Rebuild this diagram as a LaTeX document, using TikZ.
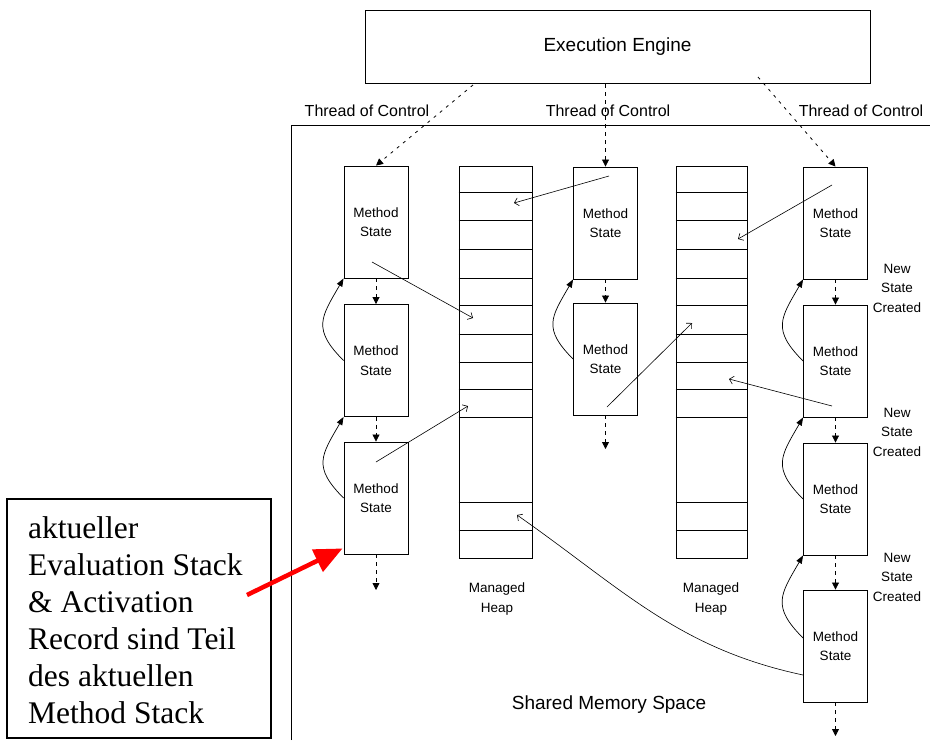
\documentclass[tikz,border=0pt]{standalone}
\usepackage{fontspec}
\setmainfont{Liberation Serif}
\newfontfamily\diagsans{Liberation Sans}
\usetikzlibrary{arrows.meta}
\begin{document}
\begin{tikzpicture}[x=1pt,y=-1pt,
  msbox/.style={draw, line width=0.9pt, minimum width=64pt, minimum height=112pt, inner sep=0pt, align=center, font=\diagsans\fontsize{13.5}{19.5}\selectfont},
  heapbox/.style={draw, line width=0.9pt, minimum height=392pt, inner sep=0pt},
  eebox/.style={draw, line width=1pt, minimum width=505pt, minimum height=73pt, inner sep=0pt, font=\diagsans\fontsize{19}{22}\selectfont},
  tlabel/.style={inner sep=0pt, font=\diagsans\fontsize{16}{19}\selectfont},
  smalllabel/.style={inner sep=0pt, align=center, font=\diagsans\fontsize{13.5}{19.5}\selectfont},
  dasharr/.style={line width=0.8pt, dash pattern=on 4pt off 4pt, -{Triangle[length=7pt,width=7pt]}},
  threadarr/.style={line width=0.8pt, dash pattern=on 3pt off 5pt, -{Triangle[length=7pt,width=7pt]}},
  thinarr/.style={line width=0.6pt, -{Straight Barb[length=4pt,width=8pt]}},
  curvarr/.style={line width=0.7pt, -{Triangle[length=8pt,width=6pt]}},
  redarr/.style={draw=red, line width=4.5pt, -{Triangle[length=28pt,width=24pt]}},
  notebox/.style={draw, line width=1.5pt, minimum width=264pt, minimum height=239pt, inner sep=0pt},
  notetext/.style={inner sep=0pt, align=left, font=\fontsize{31.5}{37}\selectfont}
]
\useasboundingbox (0,0) rectangle (930,740);

% engine and thread labels
\node[eebox] (EE) at (617.5,46.5) {Execution Engine};
\node[tlabel] (T1) at (367,111) {Thread of Control};
\node[tlabel] (T2) at (608,111) {Thread of Control};
\node[tlabel] (T3) at (861,111) {Thread of Control};

% shared memory frame
\draw[line width=1pt] (291,740) -- (291,125) -- (930,125);
\node[tlabel, font=\diagsans\fontsize{19}{22}\selectfont] (SMS) at (609,705) {Shared Memory Space};

% heaps
\node[heapbox, minimum width=73pt] (HA) at (495.5,362) {};
\node[heapbox, minimum width=71pt] (HB) at (711.5,362) {};
\foreach \yy in {192,220,249,278,305,334,362,389,417,502,530}{
  \draw[line width=0.9pt] (HA.west |- 0,\yy) -- (HA.east |- 0,\yy);
  \draw[line width=0.9pt] (HB.west |- 0,\yy) -- (HB.east |- 0,\yy);
}
\node[smalllabel] (HAL) at (497,599) {Managed\\Heap};
\node[smalllabel] (HBL) at (711,599) {Managed\\Heap};

% method states
\node[msbox] (L1) at (376,222) {Method\\State};
\node[msbox] (L2) at (376,360.5) {Method\\State};
\node[msbox] (L3) at (376,498) {Method\\State};
\node[msbox] (M1) at (605.5,223) {Method\\State};
\node[msbox] (M2) at (605.5,359) {Method\\State};
\node[msbox] (R1) at (835.5,223) {Method\\State};
\node[msbox] (R2) at (835.5,361) {Method\\State};
\node[msbox] (R3) at (835.5,499) {Method\\State};
\node[msbox] (R4) at (835.5,646) {Method\\State};

\node[smalllabel] (N1) at (897,288) {New\\State\\Created};
\node[smalllabel] (N2) at (897,432) {New\\State\\Created};
\node[smalllabel] (N3) at (897,577) {New\\State\\Created};

% thread of control arrows
\coordinate (t1s) at (473,85);
\coordinate (t2s) at (605.5,84);
\coordinate (t3s) at (758,77);
\draw[threadarr] (t1s) -- (L1.north);
\draw[threadarr, dash pattern=on 4pt off 4pt] (t2s) -- (M1.north);
\draw[threadarr] (t3s) -- (R1.north);

% dashed arrows between states
\coordinate (Lend) at (376,590);
\coordinate (Mend) at (605.5,449);
\coordinate (Rend) at (835.5,736);
\draw[dasharr] (L1.south) -- (L2.north);
\draw[dasharr] (L2.south) -- (L3.north);
\draw[dasharr] (L3.south) -- (Lend);
\draw[dasharr] (M1.south) -- (M2.north);
\draw[dasharr] (M2.south) -- (Mend);
\draw[dasharr] (R1.south) -- (R2.north);
\draw[dasharr] (R2.south) -- (R3.north);
\draw[dasharr] (R3.south) -- (R4.north);
\draw[dasharr] (R4.south) -- (Rend);

% return arrows
\draw[curvarr] (L2.west) to[out=135,in=-120,looseness=1.4] (L1.south west);
\draw[curvarr] (L3.west) to[out=135,in=-120,looseness=1.4] (L2.south west);
\draw[curvarr] (M2.west) to[out=135,in=-120,looseness=1.4] (M1.south west);
\draw[curvarr] (R2.west) to[out=135,in=-120,looseness=1.4] (R1.south west);
\draw[curvarr] (R3.west) to[out=135,in=-120,looseness=1.4] (R2.south west);
\draw[curvarr] ([yshift=8pt]R4.west) to[out=135,in=-120,looseness=1.4] (R3.south west);

% references into heaps
\coordinate (a1s) at (372,262); \coordinate (a1e) at (473,318);
\coordinate (a2s) at (609,176); \coordinate (a2e) at (514,203);
\coordinate (a3s) at (376,462); \coordinate (a3e) at (468,406);
\coordinate (a4s) at (832,185); \coordinate (a4e) at (738,239);
\coordinate (a5s) at (607,407); \coordinate (a5e) at (692,323);
\coordinate (a6s) at (832,406); \coordinate (a6e) at (729,379);
\coordinate (a7e) at (517,515);
\draw[thinarr] (a1s) -- (a1e);
\draw[thinarr] (a2s) -- (a2e);
\draw[thinarr] (a3s) -- (a3e);
\draw[thinarr] (a4s) -- (a4e);
\draw[thinarr] (a5s) -- (a5e);
\draw[thinarr] (a6s) -- (a6e);
\draw[thinarr] ([yshift=-29pt]R4.west) to[out=168,in=-35] (a7e);

% annotation
\node[notebox] (note) at (139,618.5) {};
\node[notetext, anchor=north west] (notet) at (28,516) {aktueller\\Evaluation Stack\\\& Activation\\Record sind Teil\\des aktuellen\\Method Stack};
\coordinate (rs) at (247,595);
\draw[redarr] (rs) -- ([shift={(-1pt,6pt)}]L3.south west);
\end{tikzpicture}
\end{document}
